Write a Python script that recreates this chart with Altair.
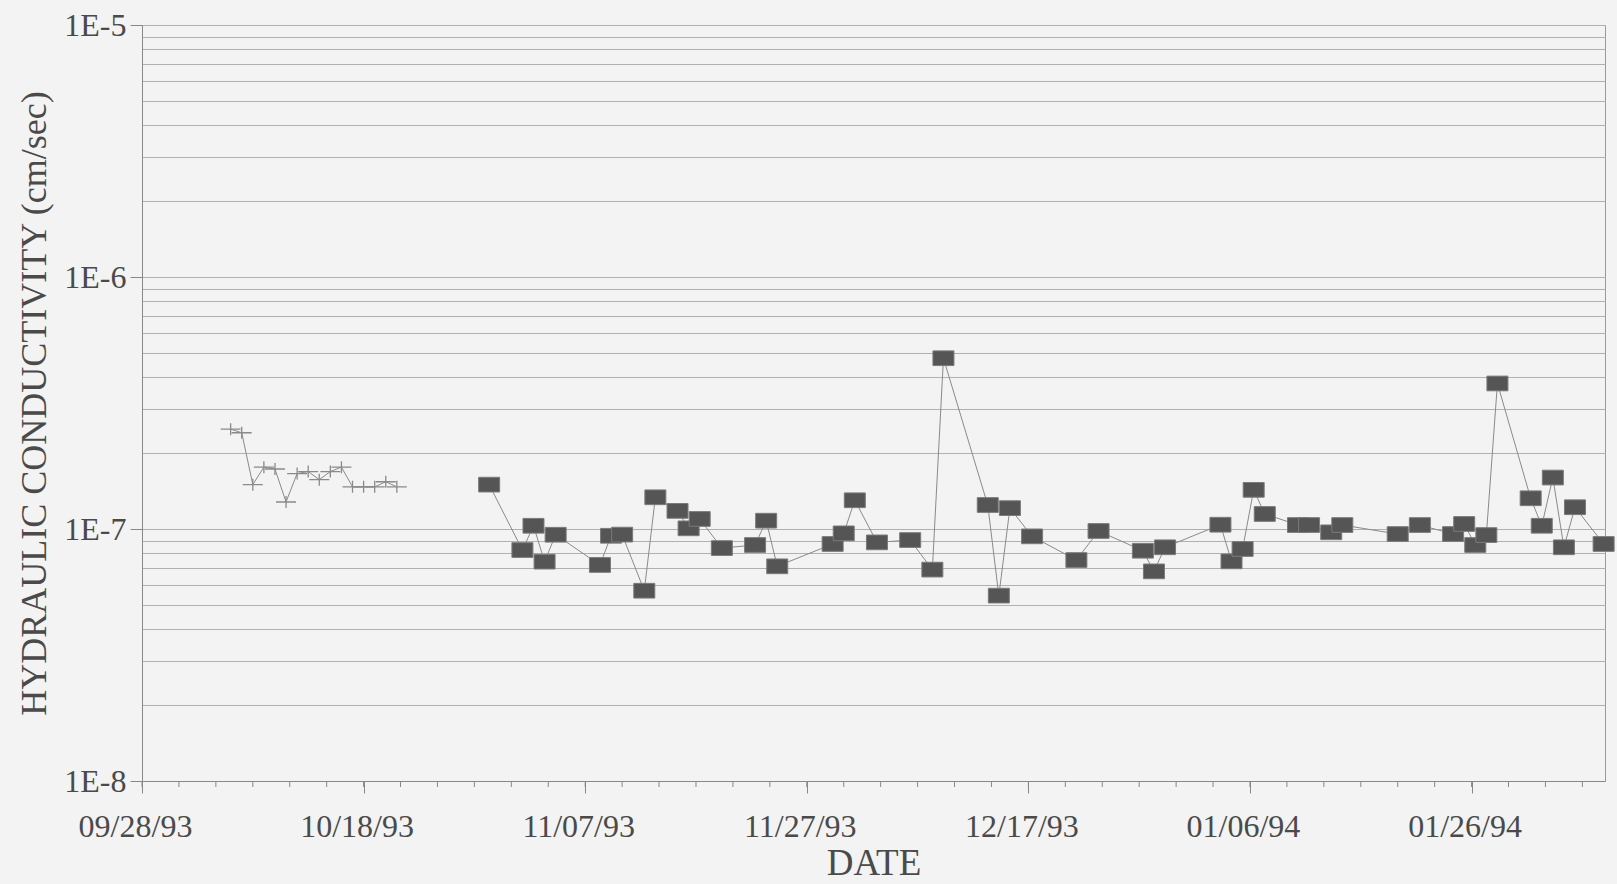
import altair as alt
import pandas as pd

# ---- data ----
plus_dates = ["1993-10-06", "1993-10-07", "1993-10-08", "1993-10-09", "1993-10-10",
              "1993-10-11", "1993-10-12", "1993-10-13", "1993-10-14", "1993-10-15",
              "1993-10-16", "1993-10-17", "1993-10-18", "1993-10-19", "1993-10-20",
              "1993-10-21"]
plus_k = [2.49e-7, 2.41e-7, 1.50e-7, 1.76e-7, 1.73e-7, 1.28e-7, 1.66e-7, 1.69e-7,
          1.57e-7, 1.69e-7, 1.76e-7, 1.47e-7, 1.47e-7, 1.47e-7, 1.54e-7, 1.47e-7]

square_dates = ["1993-10-29", "1993-11-01", "1993-11-02", "1993-11-03", "1993-11-04",
                "1993-11-08", "1993-11-09", "1993-11-10", "1993-11-12", "1993-11-13",
                "1993-11-15", "1993-11-16", "1993-11-17", "1993-11-19", "1993-11-22",
                "1993-11-23", "1993-11-24", "1993-11-29", "1993-11-30", "1993-12-01",
                "1993-12-03", "1993-12-06", "1993-12-08", "1993-12-09", "1993-12-13",
                "1993-12-14", "1993-12-15", "1993-12-17", "1993-12-21", "1993-12-23",
                "1993-12-27", "1993-12-28", "1993-12-29", "1994-01-03", "1994-01-04",
                "1994-01-05", "1994-01-06", "1994-01-07", "1994-01-10", "1994-01-11",
                "1994-01-13", "1994-01-14", "1994-01-19", "1994-01-21", "1994-01-24",
                "1994-01-25", "1994-01-26", "1994-01-27", "1994-01-28", "1994-01-31",
                "1994-02-01", "1994-02-02", "1994-02-03", "1994-02-04", "1994-02-06"]
square_hours = [8] * 54 + [22]
square_k = [1.50e-7, 8.25e-8, 1.03e-7, 7.42e-8, 9.49e-8,
            7.20e-8, 9.40e-8, 9.50e-8, 5.69e-8, 1.336e-7,
            1.18e-7, 1.006e-7, 1.096e-7, 8.40e-8, 8.64e-8,
            1.079e-7, 7.11e-8, 8.72e-8, 9.61e-8, 1.30e-7,
            8.85e-8, 9.04e-8, 6.90e-8, 4.76e-7, 1.245e-7,
            5.44e-8, 1.21e-7, 9.35e-8, 7.53e-8, 9.82e-8,
            8.20e-8, 6.79e-8, 8.46e-8, 1.04e-7, 7.44e-8,
            8.33e-8, 1.43e-7, 1.147e-7, 1.037e-7, 1.037e-7,
            9.70e-8, 1.037e-7, 9.55e-8, 1.037e-7, 9.55e-8,
            1.047e-7, 8.64e-8, 9.46e-8, 3.78e-7, 1.324e-7,
            1.03e-7, 1.60e-7, 8.46e-8, 1.22e-7, 8.72e-8]

major_tick_dates = ["1993-09-28", "1993-10-18", "1993-11-07", "1993-11-27",
                    "1993-12-17", "1994-01-06", "1994-01-26"]
y_tick_values = [m * 10.0 ** e for e in (-8, -7, -6) for m in range(1, 10)] + [1e-5]
y_title = "HYDRAULIC CONDUCTIVITY (cm/sec)"
x_title = "DATE"

# ---- build tables ----
df = pd.concat([
    pd.DataFrame({"date": [d + "T00:00:00Z" for d in plus_dates], "k": plus_k, "series": "plus"}),
    pd.DataFrame({"date": [f"{d}T{h:02d}:00:00Z" for d, h in zip(square_dates, square_hours)],
                  "k": square_k, "series": "square"}),
])

minor = pd.date_range("1993-09-28", "1994-02-07", freq="80h", tz="UTC")
minor_df = pd.DataFrame({"date": [t.strftime("%Y-%m-%dT%H:%M:%SZ") for t in minor]})


def dt(s, hour=0):
    y, m, d = (int(p) for p in s.split("-"))
    return alt.DateTime(year=y, month=m, date=d, hours=hour, utc=True)


W, H = 1463, 756
FONT = "Liberation Serif"
TXT = "#4a4a4a"

xscale = alt.Scale(type="utc", domain=[dt("1993-09-28"), dt("1994-02-07", 1)])
yscale = alt.Scale(type="log", domain=[1e-8, 1e-5])

decade_test = "abs(log(datum.value)/LN10 - round(log(datum.value)/LN10)) < 1e-6"

xaxis = alt.Axis(
    values=[dt(s) for s in major_tick_dates],
    labelExpr="utcFormat(datum.value, '%m/%d/%y')",
    grid=False, tickSize=12, tickColor="#888", domainColor="#888",
    labelFont=FONT, labelFontSize=32, labelColor=TXT, labelPadding=18,
    labelOffset=-7, labelFlush=False, labelOverlap=False,
    titleFont=FONT, titleFontSize=37, titleColor=TXT, titleFontWeight="normal",
    titleX=W / 2, titleY=64, titleBaseline="top", titleAlign="center",
)
yaxis = alt.Axis(
    values=y_tick_values,
    labelExpr=decade_test + " ? '1E' + round(log(datum.value)/LN10) : ''",
    grid=True, gridColor="#b0b0b0", gridWidth=1,
    tickSize=12, tickColor="#888",
    tickOpacity={"condition": {"test": decade_test, "value": 1}, "value": 0},
    domainColor="#888",
    labelFont=FONT, labelFontSize=32, labelColor=TXT, labelPadding=4,
    labelFlush=False, labelOverlap=False,
    titleFont=FONT, titleFontSize=36, titleColor=TXT, titleFontWeight="normal",
    titleX=-108, titleY=H / 2, titleAngle=270, titleAlign="center", titleBaseline="middle",
)

xenc = alt.X("date:T", scale=xscale, axis=xaxis, title=x_title)

base = alt.Chart(df).encode(
    x=xenc,
    y=alt.Y("k:Q", scale=yscale, axis=yaxis, title=y_title),
)

lines = base.mark_line(color="#8a8a8a", strokeWidth=1).encode(detail="series:N")

plus_pts = base.transform_filter(alt.datum.series == "plus").mark_point(
    shape="M-1,0L1,0M0,-0.6L0,0.6", size=400, filled=False,
    stroke="#8a8a8a", strokeWidth=1.3, opacity=1,
)

sq_pts = base.transform_filter(alt.datum.series == "square").mark_point(
    shape="M-1,-0.7L1,-0.7L1,0.7L-1,0.7Z", size=441, filled=True,
    fill="#555555", stroke="#7a7a7a", strokeWidth=1, opacity=1,
)

minor_ticks = alt.Chart(minor_df).mark_rule(color="#888", strokeWidth=1).encode(
    x=xenc,
    y=alt.value(H),
    y2=alt.value(H + 6),
)

chart = alt.layer(lines, plus_pts, sq_pts, minor_ticks).properties(
    width=W, height=H,
    autosize=alt.AutoSizeParams(type="none"),
    padding={"left": 142, "top": 25, "right": 12, "bottom": 103},
    background="#f3f3f3",
).configure_view(stroke="#999", strokeWidth=1)

chart.save("out.html", embed_options={"renderer": "svg", "actions": False})
